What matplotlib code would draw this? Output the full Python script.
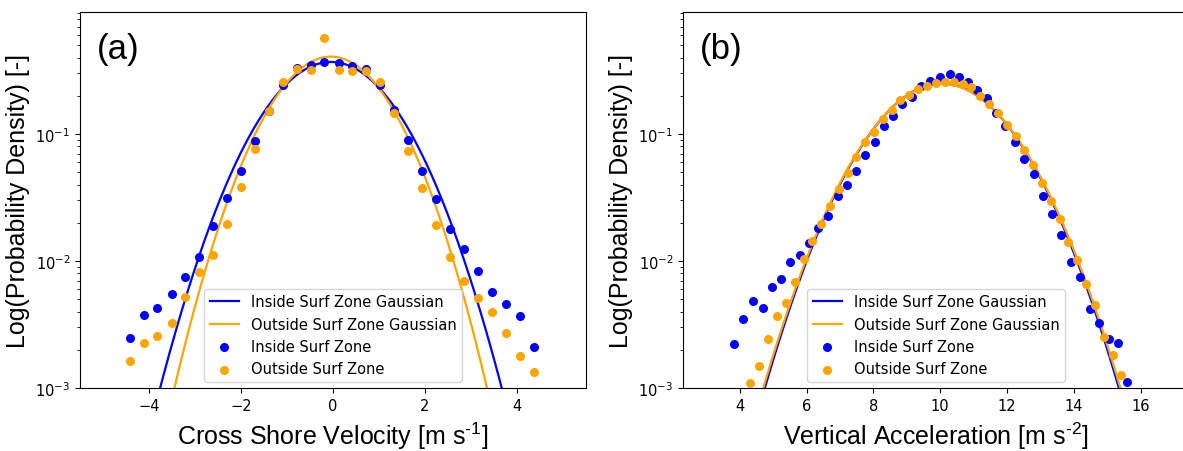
import numpy as np
import matplotlib
matplotlib.use("Agg")
import matplotlib.pyplot as plt

plt.rcParams['mathtext.rm'] = 'Liberation Sans'
plt.rcParams['mathtext.it'] = 'Liberation Sans:italic'
plt.rcParams['mathtext.bf'] = 'Liberation Sans:bold'

# ---- Panel (a): cross-shore velocity ----
vel_x = [-4.42, -4.11, -3.82, -3.51, -3.21, -2.91, -2.60, -2.30, -2.00, -1.70,
         -1.39, -1.09, -0.79, -0.48, -0.19, 0.12, 0.42, 0.72, 1.03, 1.33,
         1.63, 1.93, 2.24, 2.54, 2.84, 3.15, 3.45, 3.76, 4.06, 4.36]
vel_inside = [0.00246, 0.00376, 0.00427, 0.00547, 0.00745, 0.0107, 0.0187, 0.0312, 0.0508, 0.0885,
              0.152, 0.244, 0.333, 0.350, 0.367, 0.362, 0.341, 0.325, 0.244, 0.155,
              0.090, 0.0508, 0.0306, 0.0178, 0.0124, 0.0083, 0.00573, 0.00458, 0.00367, 0.00209]
vel_outside = [0.00162, 0.00226, 0.00256, 0.00324, 0.00524, 0.00818, 0.0111, 0.0195, 0.0385, 0.0759,
               0.151, 0.258, 0.325, 0.321, 0.568, 0.321, 0.315, 0.315, 0.255, 0.146,
               0.0731, 0.0376, 0.0191, 0.0107, 0.0070, 0.00508, 0.00398, 0.00272, 0.00179, 0.00134]
vel_fit_inside = (-0.045, 1.08)    # mean, std
vel_fit_outside = (-0.05, 0.98)

# ---- Panel (b): vertical acceleration ----
acc_x_inside = [3.83, 4.10, 4.41, 4.69, 4.96, 5.24, 5.51, 5.79, 6.07, 6.35,
                6.64, 6.93, 7.20, 7.48, 7.76, 8.04, 8.32, 8.60, 8.87, 9.16,
                9.44, 9.70, 9.99, 10.28, 10.56, 10.84, 11.11, 11.39, 11.67, 11.95,
                12.23, 12.51, 12.80, 13.07, 13.35, 13.63, 13.91, 14.20, 14.48, 14.76,
                15.04, 15.32, 15.60]
acc_inside = [0.00222, 0.00351, 0.00482, 0.00428, 0.0062, 0.00718, 0.00987, 0.0111, 0.0139, 0.0181,
              0.0228, 0.0327, 0.0397, 0.0514, 0.0687, 0.0861, 0.115, 0.139, 0.172, 0.197,
              0.240, 0.262, 0.283, 0.295, 0.281, 0.257, 0.221, 0.191, 0.147, 0.115,
              0.087, 0.0638, 0.0484, 0.0325, 0.0234, 0.016, 0.00977, 0.00745, 0.00419, 0.00327,
              0.00242, 0.00225, 0.00111]
acc_x_outside = [4.31, 4.58, 4.84, 5.11, 5.38, 5.65, 5.91, 6.17, 6.44, 6.70,
                 6.96, 7.23, 7.49, 7.76, 8.02, 8.28, 8.55, 8.81, 9.07, 9.34,
                 9.60, 9.87, 10.14, 10.40, 10.67, 10.93, 11.19, 11.46, 11.73, 11.99,
                 12.26, 12.52, 12.79, 13.05, 13.31, 13.58, 13.84, 14.11, 14.38, 14.65,
                 14.90, 15.17, 15.42]
acc_outside = [0.00109, 0.00148, 0.00243, 0.0037, 0.00467, 0.00687, 0.0104, 0.0145, 0.0195, 0.027,
               0.0369, 0.0493, 0.0663, 0.0869, 0.103, 0.131, 0.155, 0.185, 0.203, 0.226,
               0.240, 0.250, 0.255, 0.255, 0.248, 0.233, 0.198, 0.172, 0.146, 0.118,
               0.096, 0.0752, 0.057, 0.0409, 0.0295, 0.0214, 0.0142, 0.0102, 0.00659, 0.00451,
               0.00251, 0.00182, 0.00126]
acc_fit_inside = (10.05, 1.595)
acc_fit_outside = (10.05, 1.61)

labels = ["Inside Surf Zone Gaussian", "Outside Surf Zone Gaussian",
          "Inside Surf Zone", "Outside Surf Zone"]


def gauss(x, mu, sd):
    return np.exp(-(x - mu) ** 2 / (2 * sd ** 2)) / (sd * np.sqrt(2 * np.pi))


W, H = 1183, 452
fig = plt.figure(figsize=(W / 100, H / 100), dpi=100)
ax1 = fig.add_axes([80 / W, (H - 389) / H, 506 / W, 376 / H])
ax2 = fig.add_axes([683 / W, (H - 389) / H, 506 / W, 376 / H])

lab_font = dict(family='Liberation Sans', size=18)

for ax, xs_in, ys_in, xs_out, ys_out, fin, fout, grid, xl, xlab, tag in [
    (ax1, vel_x, vel_inside, vel_x, vel_outside, vel_fit_inside, vel_fit_outside,
     np.linspace(-5, 5, 600), (-5.5, 5.5), r"Cross Shore Velocity [m s$^{\text{-}1}$]", "(a)"),
    (ax2, acc_x_inside, acc_inside, acc_x_outside, acc_outside, acc_fit_inside, acc_fit_outside,
     np.linspace(3, 17, 600), (2.3, 17.45), r"Vertical Acceleration [m s$^{\text{-}2}$]", "(b)"),
]:
    ax.plot(grid, gauss(grid, *fin), color='blue', lw=1.6, label=labels[0])
    ax.plot(grid, gauss(grid, *fout), color='orange', lw=1.6, label=labels[1])
    ax.scatter(xs_in, ys_in, color='blue', s=30, label=labels[2], zorder=3)
    ax.scatter(xs_out, ys_out, color='orange', s=30, label=labels[3], zorder=3)
    ax.set_yscale('log')
    ax.set_ylim(1e-3, 0.914)
    ax.set_xlim(*xl)
    ax.tick_params(labelsize=10.5)
    ax.set_xlabel(xlab, fontdict=lab_font, math_fontfamily='custom', labelpad=5)
    ax.set_ylabel("Log(Probability Density) [-]", fontdict=lab_font, labelpad=4)
    ax.text(0.034, 0.948, tag, transform=ax.transAxes, va='top', ha='left',
            family='Liberation Sans', fontsize=25)
    ax.legend(loc='lower center', fontsize=10.5, borderaxespad=0.4)

fig.savefig("out.png", dpi=100)
